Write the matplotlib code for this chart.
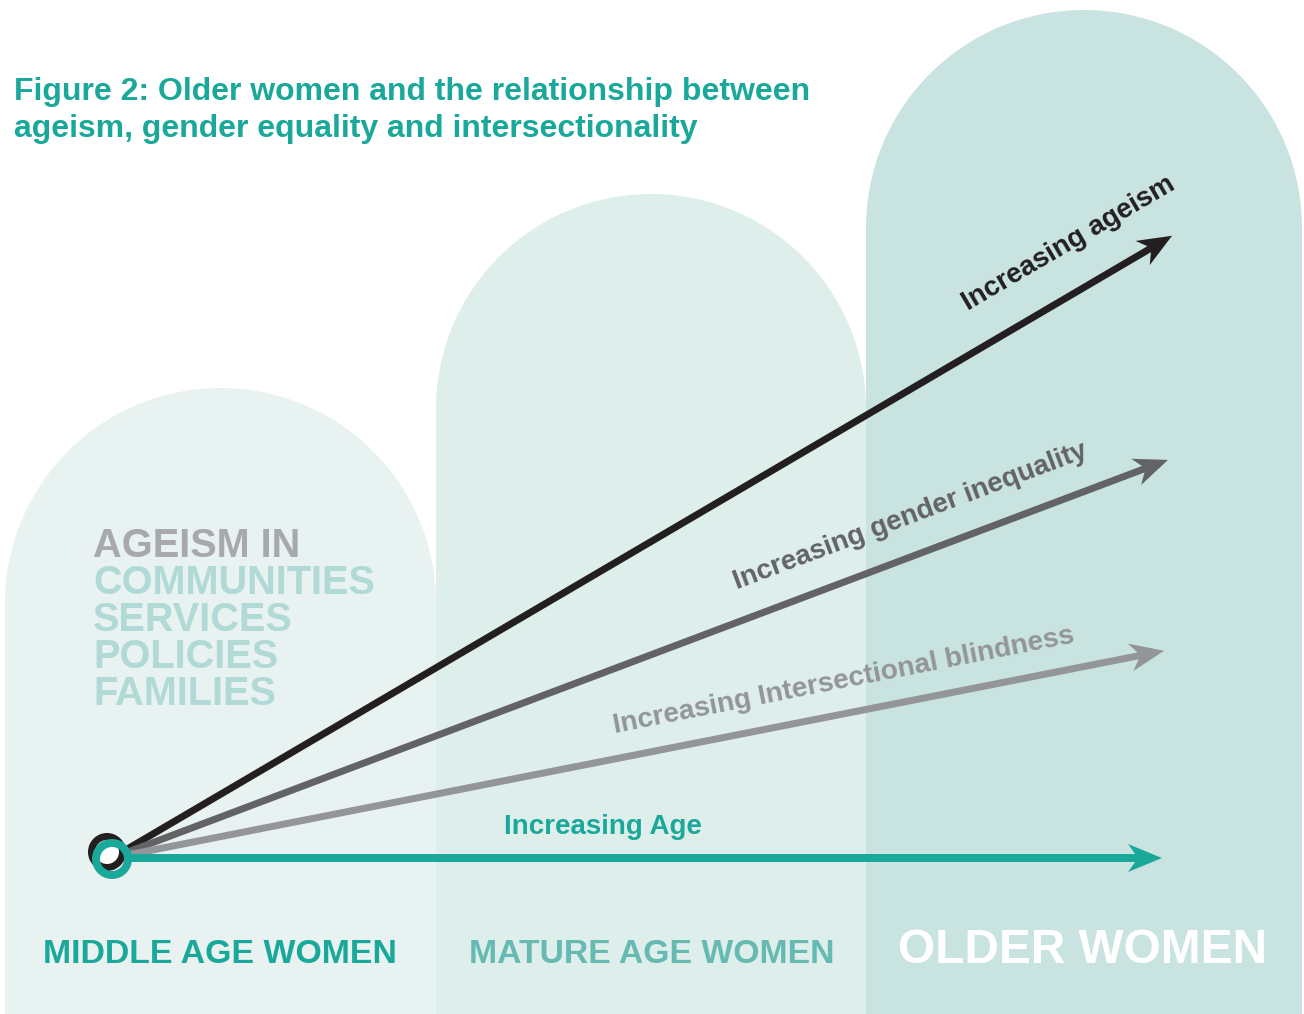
import numpy as np
import matplotlib
matplotlib.use("Agg")
import matplotlib.pyplot as plt
from matplotlib.patches import Circle, Polygon, Wedge

# ---------------- data ----------------
title_lines = ["Figure 2: Older women and the relationship between",
               "ageism, gender equality and intersectionality"]
stage_labels = ["MIDDLE AGE WOMEN", "MATURE AGE WOMEN", "OLDER WOMEN"]
ageism_heading = "AGEISM IN"
ageism_contexts = ["COMMUNITIES", "SERVICES", "POLICIES", "FAMILIES"]
trend_labels = ["Increasing ageism", "Increasing gender inequality",
                "Increasing Intersectional blindness", "Increasing Age"]
trend_slopes = [0.587, 0.377, 0.197, 0.0]   # rise per unit of age axis

# ---------------- layout / style ----------------
W, H = 1304, 1014
FONT = ["Liberation Sans", "DejaVu Sans"]
TEAL = "#1AA89A"
col_left = [5, 436, 866]
col_right = [436, 866, 1302]
col_top = [388, 194, 10]
col_colors = ["#E8F2F1", "#DDEEEB", "#C9E3E0"]
stage_colors = [TEAL, "#66BAB1", "#FFFFFF"]
stage_sizes = [24.4, 24.3, 34.4]
stage_x = [43, 469, 898]
stage_baseline = 963

origin = (112, 858)
arrow_run = [1060, 1056, 1052, 1050]
arrow_colors = ["#231F20", "#636365", "#939598", TEAL]
arrow_lw = [7, 7, 7, 8]
label_xy = [(1069, 244), (910, 516), (844, 681), (603, 827)]
label_sizes = [20, 20, 20.2, 20]

fig = plt.figure(figsize=(W / 100, H / 100), dpi=100)
ax = fig.add_axes([0, 0, 1, 1])
ax.set_xlim(0, W)
ax.set_ylim(H, 0)
ax.axis("off")
fig.patch.set_facecolor("white")

# columns with rounded tops (single polygon each)
for xl, xr, top, c in zip(col_left, col_right, col_top, col_colors):
    r = (xr - xl) / 2
    cx, cy = xl + r, top + r
    th = np.linspace(np.pi, 2 * np.pi, 200)
    arc = np.column_stack([cx + r * np.cos(th), cy + r * np.sin(th)])
    pts = np.vstack([[[xl, H + 2]], arc, [[xr, H + 2]]])
    ax.add_patch(Polygon(pts, closed=True, facecolor=c, lw=0, zorder=1))

# title
for i, line in enumerate(title_lines):
    ax.text(14, 100 + i * 37, line, color=TEAL, fontsize=23, fontweight="bold",
            family=FONT, ha="left", va="baseline", zorder=5)

# ageism in ...
ax.text(93, 557, ageism_heading, color="#A7A9AC", fontsize=28.6, fontweight="bold",
        family=FONT, ha="left", va="baseline", zorder=5)
for i, t in enumerate(ageism_contexts):
    ax.text(93, 557 + 37 * (i + 1), t, color="#B1DAD6", fontsize=28.6, fontweight="bold",
            family=FONT, ha="left", va="baseline", zorder=5)

# arrows
def draw_arrow(x0, y0, x1, y1, color, lw_px, L=34, Wd=28, notch=10):
    d = np.array([x1 - x0, y1 - y0], dtype=float)
    length = np.hypot(*d)
    u = d / length
    n = np.array([-u[1], u[0]])
    tip = np.array([x1, y1])
    back = tip - L * u
    mid = tip - (L - notch) * u
    ax.plot([x0, mid[0] + u[0] * 2], [y0, mid[1] + u[1] * 2], color=color,
            lw=lw_px * 72 / 100, solid_capstyle="butt", zorder=3)
    head = np.array([tip, back + n * Wd / 2, mid, back - n * Wd / 2])
    ax.add_patch(Polygon(head, closed=True, facecolor=color, lw=0, zorder=3))

for slope, run, c, lw in zip(trend_slopes, arrow_run, arrow_colors, arrow_lw):
    draw_arrow(origin[0], origin[1], origin[0] + run, origin[1] - slope * run, c, lw)

for lab, slope, (lx, ly), c, s in zip(trend_labels, trend_slopes, label_xy,
                                      arrow_colors, label_sizes):
    ang = np.degrees(np.arctan(slope))
    ax.text(lx, ly, lab, color=c, fontsize=s, fontweight="bold",
            family=FONT, rotation=ang, rotation_mode="anchor", ha="center", va="center",
            zorder=5)

# origin rings
ax.add_patch(Circle((112, 858), 12, facecolor="white", lw=0, zorder=6))
ax.add_patch(Wedge((107, 852), 19, 0, 360, width=7, facecolor="#231F20", lw=0, zorder=7))
ax.add_patch(Wedge((112, 859), 20, 0, 360, width=8, facecolor=TEAL, lw=0, zorder=8))

# stage labels
for lab, x, c, s in zip(stage_labels, stage_x, stage_colors, stage_sizes):
    ax.text(x, stage_baseline, lab, color=c, fontsize=s, fontweight="bold",
            family=FONT, ha="left", va="baseline", zorder=5)

fig.savefig("out.png", dpi=100, facecolor="white")
